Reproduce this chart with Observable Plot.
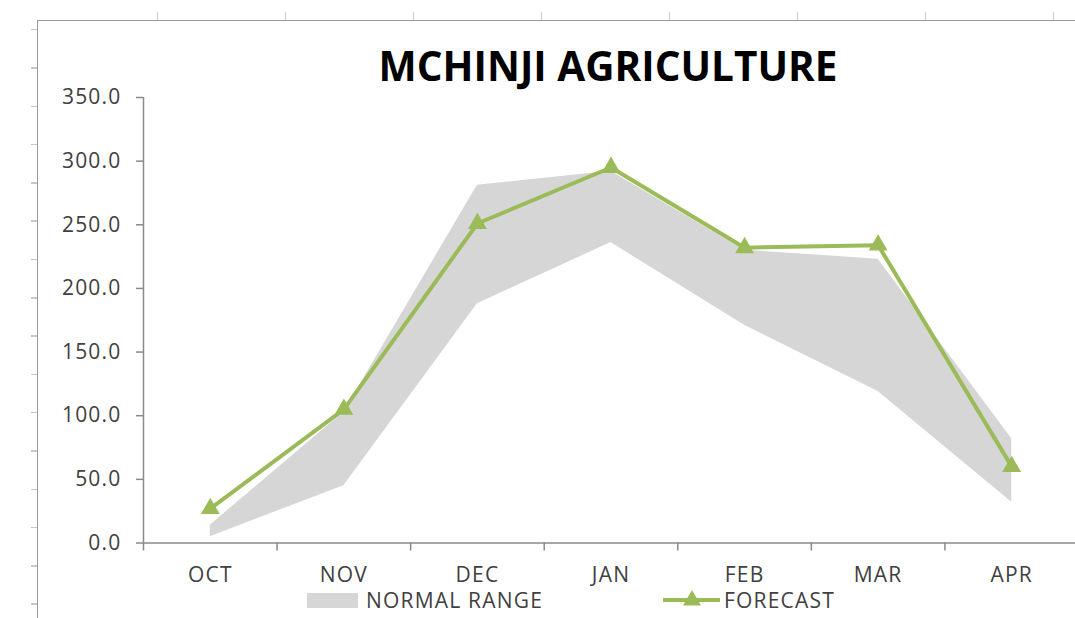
<!DOCTYPE html>
<html>
<head>
<meta charset="utf-8">
<script src="https://cdn.jsdelivr.net/npm/d3@7"></script>
<script src="https://cdn.jsdelivr.net/npm/@observablehq/plot@0.6"></script>
<style>
  html, body { margin: 0; padding: 0; background: #fff; overflow: hidden; }
  #wrap { position: relative; width: 1075px; height: 618px; overflow: hidden; font-family: "Open Sans", sans-serif; }
  .abs { position: absolute; }
  #frameTop { left: 37px; top: 20px; right: 0; height: 0; border-top: 1.5px solid #9a9a9a; }
  #frameLeft { left: 37px; top: 20px; bottom: 0; width: 0; border-left: 1.5px solid #9a9a9a; }
  #colTicks { left: 128px; top: 12px; width: 1000px; height: 8px;
    background: repeating-linear-gradient(to right, transparent 0 29px, #c8c8c8 29px 30.5px, transparent 30.5px 128px); }
  #rowTicks { left: 31px; top: 0; width: 6px; height: 618px;
    background: repeating-linear-gradient(to bottom, transparent 0 29px, #c8c8c8 29px 30.5px, transparent 30.5px 38.3px); }
  #title { left: 308px; top: 46px; width: 600px; text-align: center; font-weight: 700; font-size: 40.5px; line-height: 40px; color: #000; letter-spacing: 0; white-space: nowrap; }
  .legtext { font-size: 21px; line-height: 16px; height: 16px; color: #404040; letter-spacing: 1.2px; white-space: nowrap; }
</style>
</head>
<body>
<div id="wrap">
  <div id="colTicks" class="abs"></div>
  <div id="rowTicks" class="abs"></div>
  <div id="frameTop" class="abs"></div>
  <div id="frameLeft" class="abs"></div>
  <div id="chart" class="abs" style="left:0;top:0"></div>
  <div id="title" class="abs">MCHINJI AGRICULTURE</div>
  <div class="abs" style="left:307px;top:593px;width:51px;height:15px;background:#d6d6d6"></div>
  <div class="abs legtext" style="left:366px;top:592px">NORMAL RANGE</div>
  <svg class="abs" style="left:663px;top:590px;overflow:visible" width="58" height="20">
    <line x1="0" y1="10" x2="57" y2="10" stroke="#9bbb59" stroke-width="4"></line>
    <path d="M29,0 L38,15.5 L20,15.5 Z" fill="#9bbb59"></path>
  </svg>
  <div class="abs legtext" style="left:724px;top:592px">FORECAST</div>
</div>
<script>
const months = ["OCT", "NOV", "DEC", "JAN", "FEB", "MAR", "APR"];
const normalLow = [5, 45, 188, 236, 171, 119, 32];
const normalHigh = [14, 103, 281, 292, 230, 223, 82];
const forecast = [27, 105, 251, 295, 232, 234, 60];
const yTicks = [0, 50, 100, 150, 200, 250, 300, 350];

const data = months.map((m, i) => ({i, month: m, lo: normalLow[i], hi: normalHigh[i], fc: forecast[i]}));
const centers = d3.range(months.length);
const boundaries = d3.range(months.length + 1).map(i => i - 0.5);

const axisColor = "#8a8a8a";
const textColor = "#404040";
const green = "#9bbb59";

const chart = Plot.plot({
  width: 1075,
  height: 618,
  marginTop: 97,
  marginBottom: 75.5,
  marginLeft: 143,
  marginRight: 0,
  x: {type: "linear", domain: [boundaries[0], boundaries[boundaries.length - 1]], range: [143, 1078], label: null},
  y: {domain: [0, 350], label: null},
  style: {fontFamily: "'Open Sans', sans-serif", fontSize: "21px", color: textColor, background: "transparent", overflow: "visible", letterSpacing: "1.2px"},
  marks: [
    Plot.areaY(data, {x: "i", y1: "lo", y2: "hi", fill: "#d6d6d6"}),
    Plot.ruleX([boundaries[0]], {stroke: axisColor, strokeWidth: 1.5}),
    Plot.ruleY([0], {stroke: axisColor, strokeWidth: 1.5}),
    Plot.axisY({ticks: yTicks, tickSize: 7, tickPadding: 15, tickFormat: d => d.toFixed(1), stroke: axisColor, strokeWidth: 1.5, fill: textColor, fontSize: 21, label: null}),
    Plot.axisX({ticks: boundaries, tickSize: 8, tickFormat: () => "", stroke: axisColor, strokeWidth: 1.5, label: null}),
    Plot.axisX({ticks: centers, tickSize: 0, tickPadding: 24.5, tickFormat: i => months[i], fill: textColor, fontSize: 21, label: null}),
    Plot.lineY(data, {x: "i", y: "fc", stroke: green, strokeWidth: 4}),
    Plot.dot(data, {x: "i", y: "fc", symbol: "triangle", r: 7, fill: green, stroke: "none"})
  ]
});
document.getElementById("chart").appendChild(chart);
</script>
</body>
</html>
